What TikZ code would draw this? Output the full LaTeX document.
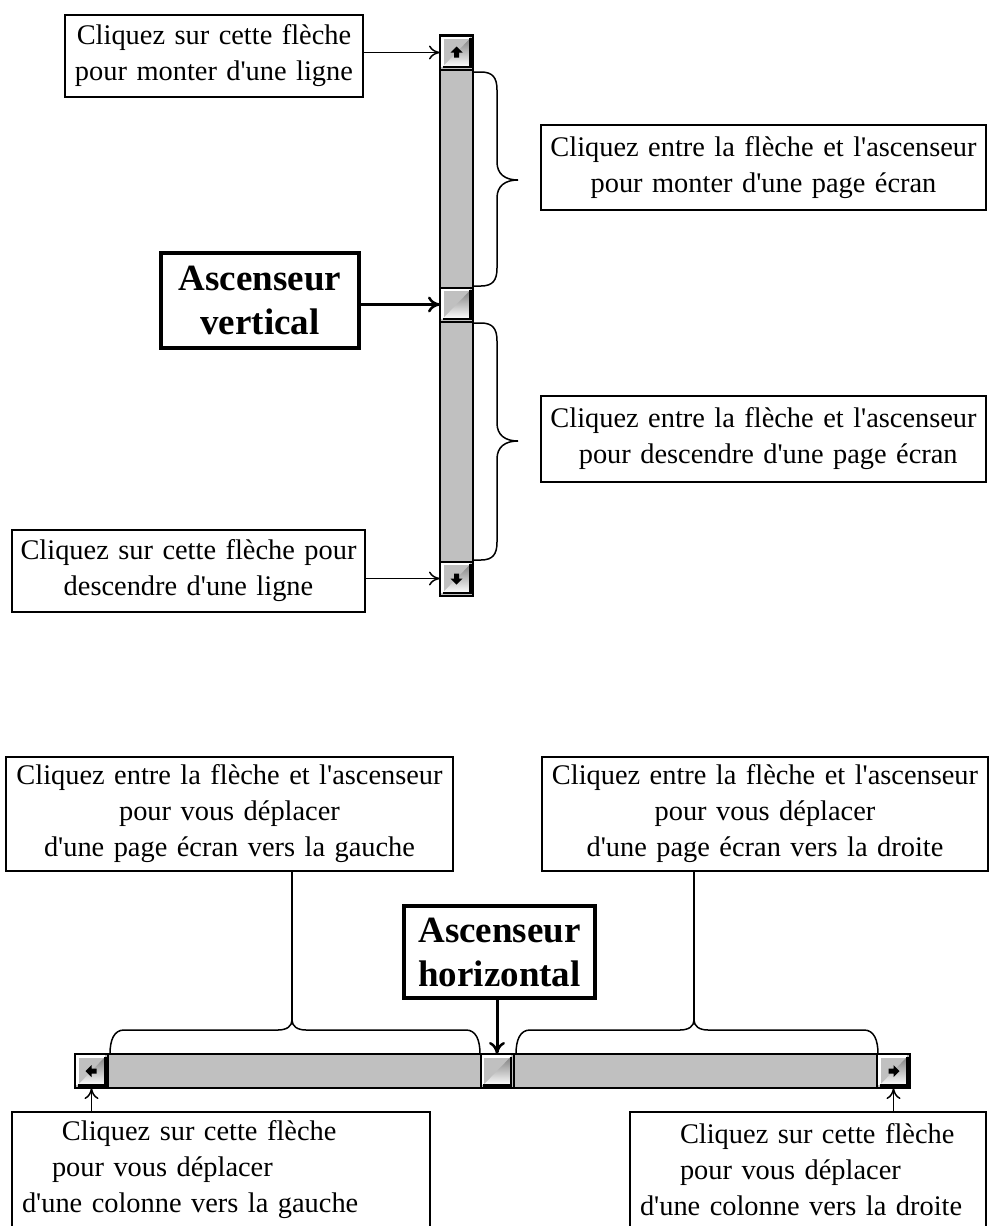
\documentclass[tikz,border=0pt]{standalone}
\usepackage{fontspec}
\setmainfont{Liberation Serif}
\usetikzlibrary{arrows.meta,calc}
\definecolor{face}{HTML}{C0C0C0}
\definecolor{shade}{HTML}{808080}
\newcommand\apos{\textquotesingle}
\tikzset{
  txt/.style={draw, line width=1.5pt, inner xsep=0pt, inner ysep=0pt, font=\fontsize{28.4}{36}\selectfont, align=center},
  ttl/.style={draw, line width=3.5pt, inner xsep=0pt, inner ysep=0pt, font=\fontsize{37}{44}\selectfont\bfseries, align=center},
  arr/.style={line width=1.5pt, -{To[length=11pt,width=14pt,line width=1.5pt]}},
  arrb/.style={line width=3pt, -{To[length=12pt,width=16pt,line width=2.5pt]}},
  brace/.style={line width=1.5pt},
  trough/.style={draw, line width=2pt, fill=face, inner sep=0pt, outer sep=0pt},
  sbbtn/.style={draw, line width=2pt, fill=face, minimum width=33pt, minimum height=34pt, inner sep=0pt, outer sep=0pt,
    path picture={
      \draw[white,line width=2.5pt] ([xshift=2.5pt,yshift=3pt]path picture bounding box.south west) -- ([xshift=2.5pt,yshift=-2.5pt]path picture bounding box.north west) -- ([xshift=-3pt,yshift=-2.5pt]path picture bounding box.north east);
      \draw[shade,line width=2.5pt] ([xshift=2.5pt,yshift=2.5pt]path picture bounding box.south west) -- ([xshift=-2.5pt,yshift=2.5pt]path picture bounding box.south east) -- ([xshift=-2.5pt,yshift=-2.5pt]path picture bounding box.north east);
    }},
  sbglyph/.pic={\fill[black] (0pt,6pt) -- (-6pt,0pt) -- (-2.5pt,0pt) -- (-2.5pt,-5pt) -- (2.5pt,-5pt) -- (2.5pt,0pt) -- (6pt,0pt) -- cycle;}
}
\begin{document}
\begin{tikzpicture}[x=1pt,y=-1pt]
\useasboundingbox (0,0) rectangle (989,1226);
\fill[white] (0,0) rectangle (989,1226);

% ---------- vertical scrollbar ----------
\node[trough, minimum width=33pt, minimum height=560pt] (vbar) at (456.5,315) {};
\node[sbbtn] (up) at (456.5,52.5) {};
\node[sbbtn] (thumbv) at (456.5,304.5) {};
\node[sbbtn] (down) at (456.5,578.5) {};
\pic at (up.center) {sbglyph};
\pic[rotate=180] at (down.center) {sbglyph};

% braces (vertical)
\draw[brace] (473,72) -- (481,72) .. controls (493,72) and (497,78) .. (497,90) -- (497,162) .. controls (497,174) and (505,180) .. (518,180) .. controls (505,180) and (497,186) .. (497,198) -- (497,268) .. controls (497,280) and (493,286) .. (481,286) -- (473,286);
\draw[brace] (473,323) -- (481,323) .. controls (493,323) and (497,329) .. (497,341) -- (497,423) .. controls (497,435) and (505,441) .. (518,441) .. controls (505,441) and (497,447) .. (497,459) -- (497,542) .. controls (497,554) and (493,560) .. (481,560) -- (473,560);

% labels (vertical)
\node[txt, text width=298pt, minimum height=82pt] (tl) at (214,56) {Cliquez sur cette flèche\\pour monter d\apos une ligne};
\node[txt, text width=445pt, minimum height=85pt] (tr1) at (763.5,167.5) {Cliquez entre la flèche et l\apos ascenseur\\pour monter d\apos une page écran};
\node[ttl, text width=198pt, minimum height=95pt] (asv) at (260,300.5) {Ascenseur\\vertical};
\node[txt, text width=445pt, minimum height=86pt] (tr2) at (763.5,439) {Cliquez entre la flèche et l\apos ascenseur\\\ pour descendre d\apos une page écran};
\node[txt, text width=353pt, minimum height=82pt] (bl) at (188.5,571) {Cliquez sur cette flèche pour\\descendre d\apos une ligne};

\draw[arr] (tl.east |- up.west) -- (up.west);
\draw[arrb] (asv.east |- thumbv.west) -- (thumbv.west);
\draw[arr] (bl.east |- down.west) -- (down.west);

% ---------- horizontal scrollbar ----------
\node[trough, minimum width=835pt, minimum height=34pt] (hbar) at (492.5,1071) {};
\node[sbbtn] (hleft) at (91.5,1071) {};
\node[sbbtn] (thumbh) at (497,1071) {};
\node[sbbtn] (hright) at (893.5,1071) {};
\pic[rotate=90] at (hleft.center) {sbglyph};
\pic[rotate=-90] at (hright.center) {sbglyph};

% braces (horizontal)
\coordinate (tipL) at (292,1020);
\coordinate (tipR) at (694,1020);
\draw[brace] (110,1054) .. controls (110,1040) and (114,1030) .. (124,1030) -- (278,1030) .. controls (287,1030) and (292,1026) .. (tipL) .. controls (292,1026) and (297,1030) .. (306,1030) -- (466,1030) .. controls (476,1030) and (480,1040) .. (480,1054);
\draw[brace] (516,1054) .. controls (516,1040) and (520,1030) .. (530,1030) -- (680,1030) .. controls (689,1030) and (694,1026) .. (tipR) .. controls (694,1026) and (699,1030) .. (708,1030) -- (864,1030) .. controls (874,1030) and (878,1040) .. (878,1054);

% labels (horizontal)
\node[txt, text width=447pt, minimum height=114pt] (htl) at (229.5,814) {Cliquez entre la flèche et l\apos ascenseur\\pour vous déplacer\hspace*{50pt}\\d\apos une page écran vers la gauche};
\node[txt, text width=446pt, minimum height=114pt] (htr) at (765,814) {Cliquez entre la flèche et l\apos ascenseur\\pour vous déplacer\hspace*{56pt}\\d\apos une page écran vers la droite\hspace*{26pt}};
\node[ttl, text width=191pt, minimum height=92pt] (ash) at (499.5,952) {Ascenseur\\horizontal};
\node[txt, align=left, text width=418pt, minimum height=116pt] (hbl) at (221,1170) {\hspace*{50pt}Cliquez sur cette flèche\\\hspace*{40pt}pour vous déplacer\\\hspace*{10pt}d\apos une colonne vers la gauche};
\node[txt, align=left, text width=356pt, minimum height=116pt] (hbr) at (808,1170) {\hspace*{50pt}Cliquez sur cette flèche\\\hspace*{50pt}pour vous déplacer\\\hspace*{10pt}d\apos une colonne vers la droite};

\draw[brace] (htl.south -| tipL) -- (tipL);
\draw[brace] (htr.south -| tipR) -- (tipR);
\draw[arrb] (ash.south -| thumbh.north) -- (thumbh.north);
\draw[arr] (hbl.north -| hleft.south) -- (hleft.south);
\draw[arr] (hbr.north -| hright.south) -- (hright.south);
\end{tikzpicture}
\end{document}
